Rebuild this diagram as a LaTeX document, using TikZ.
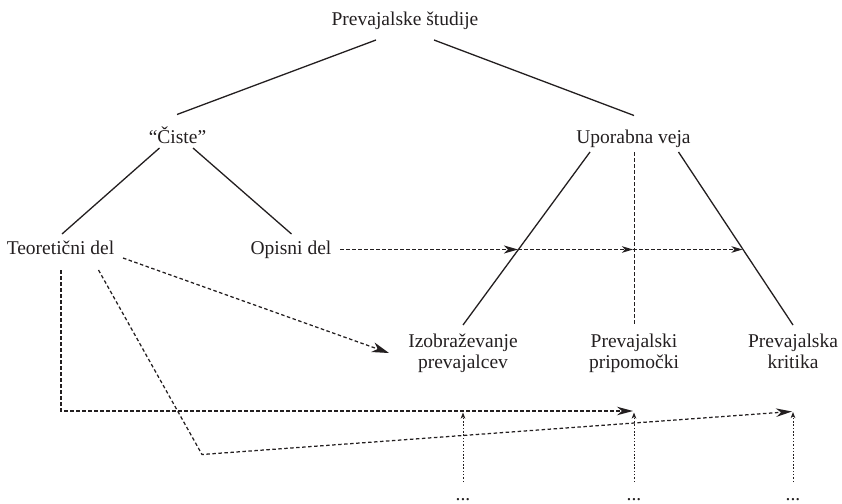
\documentclass[tikz,border=0pt]{standalone}
\usepackage{fontspec}
\setmainfont{Liberation Serif}
\usetikzlibrary{arrows.meta}
\definecolor{ink}{RGB}{35,31,32}
\begin{document}
\begin{tikzpicture}[x=1pt,y=-1pt,
  lbl/.style={font=\fontsize{19.5}{21}\selectfont, text=ink, inner sep=0pt, anchor=base, align=center},
  solidline/.style={draw=ink, line width=1.3pt},
  dashline/.style={draw=ink, line width=1.25pt, dash pattern=on 3.5pt off 2.5pt},
  dotline/.style={draw=ink, line width=0.9pt, dash pattern=on 1.5pt off 1.8pt},
  bigarrow/.style={-{Stealth[length=17pt,width=10pt,inset=5pt]}},
  longarrow/.style={-{Stealth[length=16pt,width=8.5pt,inset=5pt]}},
  midarrow/.style={-{Stealth[length=14pt,width=8pt,inset=4pt]}},
  smallmid/.style={-{Stealth[length=11pt,width=6.5pt,inset=3pt]}},
  smallarrow/.style={-{Stealth[length=6pt,width=4.5pt,inset=1.5pt]}}]
\useasboundingbox (0,0) rectangle (842,503);

% nodes
\node[lbl] (root) at (405,25.5) {Prevajalske študije};
\node[lbl] (ciste) at (177.5,143) {“Čiste”};
\node[lbl] (upor) at (633.5,143) {Uporabna veja};
\node[lbl] (teo) at (60.5,254) {Teoretični del};
\node[lbl] (opis) at (291,254) {Opisni del};
\node[lbl] (izo) at (463,368) {Izobraževanje\\prevajalcev};
\node[lbl] (pri) at (634,368) {Prevajalski\\pripomočki};
\node[lbl] (kri) at (793,368) {Prevajalska\\kritika};
\node[lbl] (d1) at (463,500) {...};
\node[lbl] (d2) at (634,500) {...};
\node[lbl] (d3) at (793,500) {...};

% connector end points
\coordinate (rootL) at (376,40);
\coordinate (rootR) at (434,40);
\coordinate (cisteT) at (177,114.5);
\coordinate (uporT) at (634,115.5);
\coordinate (cisteL) at (159.5,148);
\coordinate (cisteR) at (193,148);
\coordinate (teoT) at (62,234);
\coordinate (opisT) at (291.5,234);
\coordinate (uporL) at (590,152);
\coordinate (uporM) at (634,152);
\coordinate (uporR) at (678.5,152);
\coordinate (izoT) at (463,325);
\coordinate (priT) at (634,325);
\coordinate (kriT) at (793,325);
\coordinate (opisE) at (340,249.5);
\coordinate (x1) at (518,249.5);
\coordinate (x2) at (633,249.5);
\coordinate (x3) at (742.5,249.5);
\coordinate (teoE) at (123,258);
\coordinate (izoW) at (389,353);
\coordinate (teoB1) at (61,270);
\coordinate (c1) at (61,411);
\coordinate (t1) at (633,411);
\coordinate (teoB2) at (98.5,270);
\coordinate (c2) at (202,454.5);
\coordinate (t2) at (792,411.5);
\coordinate (d1T) at (463,482);
\coordinate (d2T) at (634,482);
\coordinate (d3T) at (793,482);
\coordinate (u1) at (463,412.5);
\coordinate (u2) at (634,412.5);
\coordinate (u3) at (793,412);

% tree lines
\draw[solidline] (rootL) -- (cisteT);
\draw[solidline] (rootR) -- (uporT);
\draw[solidline] (cisteL) -- (teoT);
\draw[solidline] (cisteR) -- (opisT);
\draw[solidline] (uporL) -- (izoT);
\draw[dashline, line width=1pt] (uporM) -- (priT);
\draw[solidline] (uporR) -- (kriT);

% dashed arrows
\draw[dashline, midarrow] (opisE) -- (x1);
\draw[dashline, smallmid] (x1) -- (x2);
\draw[dashline, smallmid] (x2) -- (x3);
\draw[dashline, bigarrow] (teoE) -- (izoW);
\draw[dashline, longarrow] (teoB1) -- (c1) -- (t1);
\draw[dashline, longarrow] (teoB2) -- (c2) -- (t2);
\draw[dotline, smallarrow] (d1T) -- (u1);
\draw[dotline, smallarrow] (d2T) -- (u2);
\draw[dotline, smallarrow] (d3T) -- (u3);
\end{tikzpicture}
\end{document}
